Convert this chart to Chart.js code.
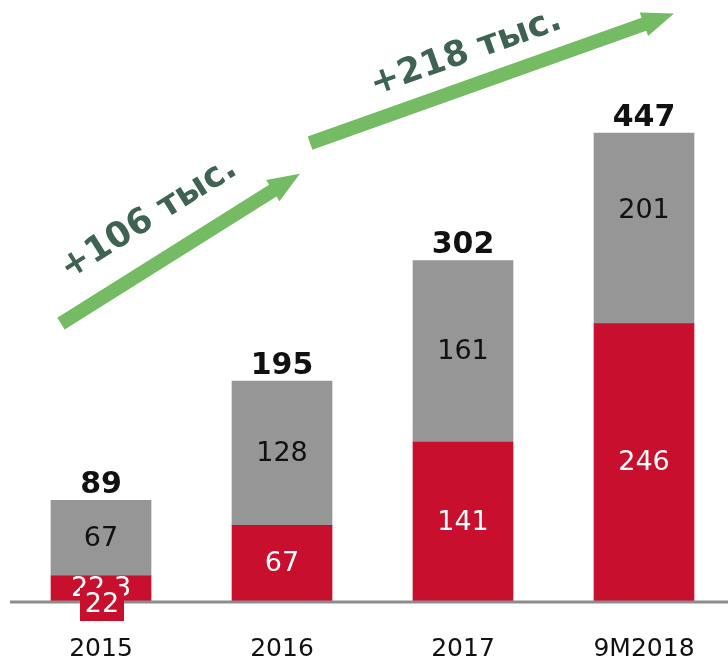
<!DOCTYPE html>
<html><head><meta charset="utf-8">
<script src="https://cdn.jsdelivr.net/npm/chart.js@4"></script>
<style>html,body{margin:0;padding:0;background:#fff;overflow:hidden}canvas{display:block}</style>
</head><body>
<canvas id="c" width="728" height="661"></canvas>
<script>
// ---- data ----
const categories = ['2015', '2016', '2017', '9M2018'];
const redValues = [22.3, 67, 141, 246];      // red (bottom) segments
const grayValues = [67, 128, 161, 169];      // grey (top) segments as drawn
const redLabels = ['22,3', '67', '141', '246'];
const grayLabels = [67, 128, 161, 201];
const totals = [89, 195, 302, 447];
const growthLabels = ['+106 тыс.', '+218 тыс.'];
// arrow anchors in data space: [category index, value]
const growthFrom = [[-0.221, 246], [1.155, 406]];
const growthTo = [[1.099, 379], [3.166, 521]];
const growthTextAt = [[0.265, 339], [2.017, 486]];
const boxLabel = '22';

const RED = '#C8102E', GRAY = '#969696', GREEN = '#74BB63', TXTGREEN = '#3E6352';
const FONT = "'DejaVu Sans', sans-serif";

const overlay = {
  id: 'overlay',
  afterDatasetsDraw(chart) {
    const ctx = chart.ctx, xs = chart.scales.x, ys = chart.scales.y;
    const step = xs.getPixelForValue(1) - xs.getPixelForValue(0);
    const px = i => xs.getPixelForValue(0) + i * step;
    const py = v => ys.getPixelForValue(v);
    ctx.save();
    // axis line
    const y0 = py(0);
    ctx.strokeStyle = '#8C8C8C';
    ctx.lineWidth = 3;
    ctx.beginPath();
    ctx.moveTo(px(0) - 91, y0 + 1);
    ctx.lineTo(chart.width, y0 + 1);
    ctx.stroke();

    ctx.textAlign = 'center';
    ctx.textBaseline = 'middle';
    categories.forEach((c, i) => {
      const x = px(i);
      ctx.fillStyle = '#fff';
      ctx.font = '27px ' + FONT;
      ctx.fillText(redLabels[i], x, py(redValues[i] / 2) + 1);
      ctx.fillStyle = '#111';
      ctx.fillText(String(grayLabels[i]), x, py(redValues[i] + grayLabels[i] / 2) + 1);
      ctx.font = 'bold 30px ' + FONT;
      ctx.textBaseline = 'alphabetic';
      ctx.fillText(String(totals[i]), x, py(redValues[i] + grayValues[i]) - 7);
      ctx.textBaseline = 'middle';
    });
    // small red box on the first bar
    const bx = px(0) + 1;
    ctx.fillStyle = RED;
    ctx.fillRect(bx - 22, y0 - 13, 44, 33);
    ctx.fillStyle = '#fff';
    ctx.font = '27px ' + FONT;
    ctx.fillText(boxLabel, bx, y0 + 4);

    // growth arrows
    growthLabels.forEach((lab, k) => {
      const x1 = px(growthFrom[k][0]), y1 = py(growthFrom[k][1]);
      const x2 = px(growthTo[k][0]), y2 = py(growthTo[k][1]);
      const ang = Math.atan2(y2 - y1, x2 - x1);
      const len = Math.hypot(x2 - x1, y2 - y1);
      const sw = 14, hl = 32, hw = 25;
      ctx.save();
      ctx.translate(x1, y1);
      ctx.rotate(ang);
      ctx.fillStyle = GREEN;
      ctx.beginPath();
      ctx.moveTo(0, -sw / 2);
      ctx.lineTo(len - hl, -sw / 2);
      ctx.lineTo(len - hl, -hw / 2);
      ctx.lineTo(len, 0);
      ctx.lineTo(len - hl, hw / 2);
      ctx.lineTo(len - hl, sw / 2);
      ctx.lineTo(0, sw / 2);
      ctx.closePath();
      ctx.fill();
      ctx.restore();
      ctx.save();
      ctx.translate(px(growthTextAt[k][0]), py(growthTextAt[k][1]));
      ctx.rotate(ang);
      ctx.fillStyle = TXTGREEN;
      ctx.font = 'bold 35px ' + FONT;
      ctx.textAlign = 'center';
      ctx.textBaseline = 'middle';
      ctx.fillText(lab, 0, 0);
      ctx.restore();
    });
    ctx.restore();
  }
};

const chart = new Chart(document.getElementById('c'), {
  type: 'bar',
  data: {
    labels: categories,
    datasets: [
      { data: redValues, backgroundColor: RED, barThickness: 100, clip: false, stack: 's' },
      { data: grayValues, backgroundColor: GRAY, barThickness: 100, clip: false, stack: 's' }
    ]
  },
  options: {
    responsive: false,
    devicePixelRatio: 1,
    animation: false,
    layout: { padding: { left: 101, right: 84, top: 0, bottom: -36 } },
    plugins: { legend: { display: false }, tooltip: { enabled: false } },
    scales: {
      x: {
        stacked: true,
        offset: false,
        grid: { display: false, drawTicks: false },
        border: { display: false },
        ticks: { color: '#111', font: { family: FONT, size: 25 }, padding: 33, maxRotation: 0 }
      },
      y: {
        stacked: true,
        display: false,
        min: 0,
        max: 533
      }
    }
  },
  plugins: [overlay]
});
</script>
</body></html>
